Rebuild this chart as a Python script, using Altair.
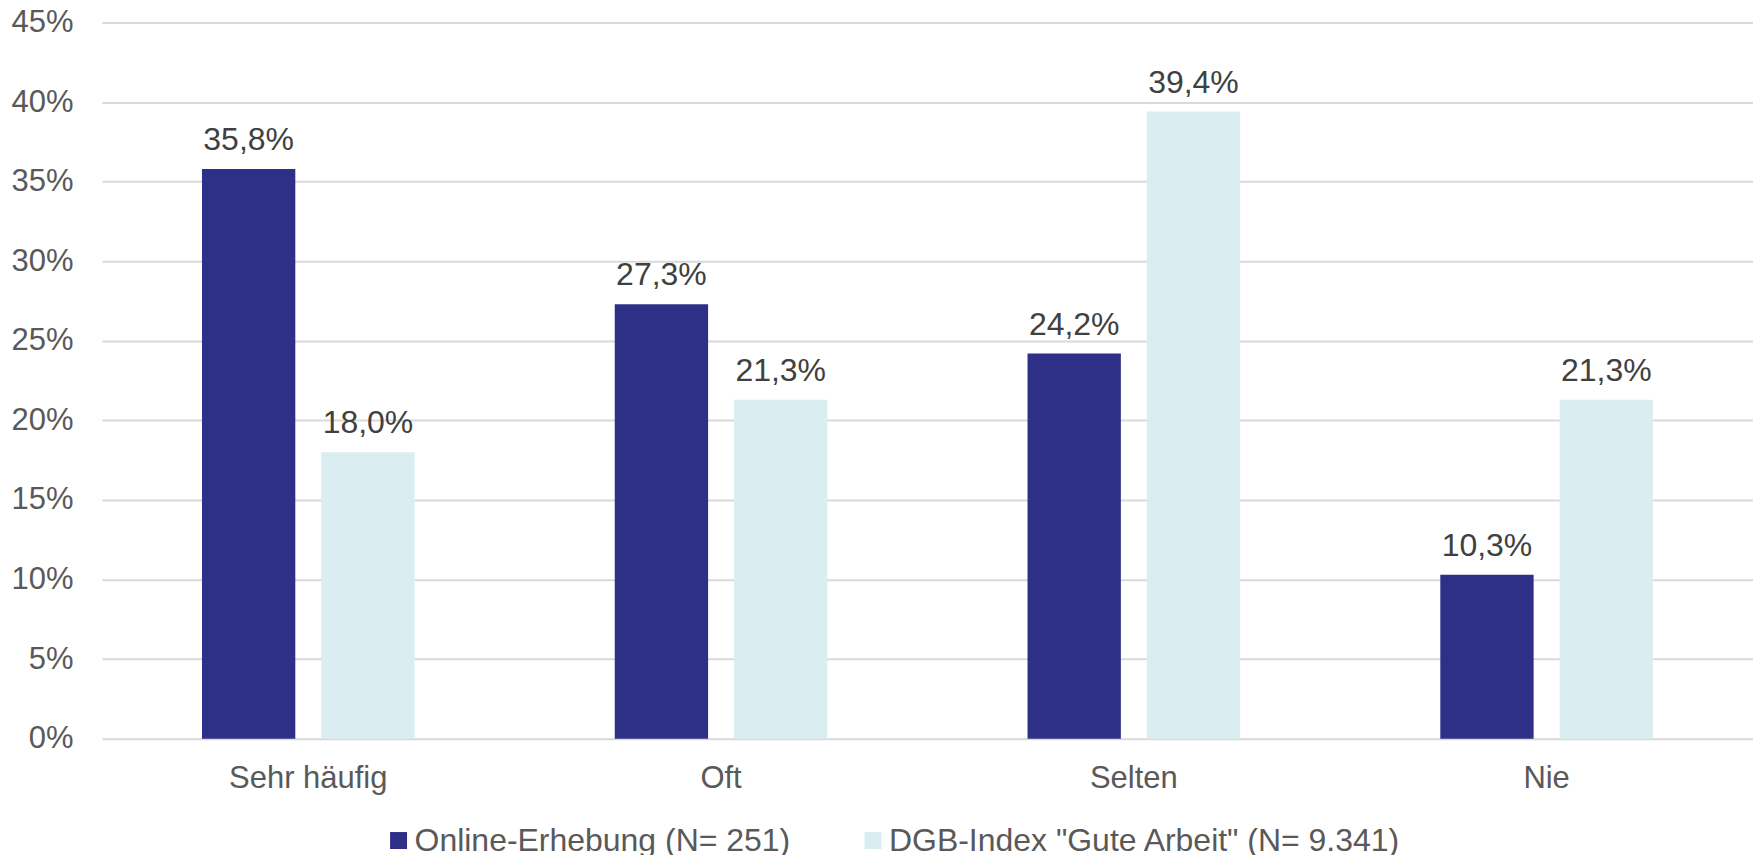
import altair as alt
import pandas as pd

categories = ["Sehr häufig", "Oft", "Selten", "Nie"]
series_names = ["Online-Erhebung (N= 251)", 'DGB-Index "Gute Arbeit" (N= 9.341)']
online_values = [35.8, 27.3, 24.2, 10.3]
dgb_values = [18.0, 21.3, 39.4, 21.3]
y_ticks = [0, 5, 10, 15, 20, 25, 30, 35, 40, 45]
colors = ["#2E2F87", "#DAEDF0"]

rows = []
for i, c in enumerate(categories):
    rows.append({"cat": c, "series": series_names[0], "value": online_values[i]})
    rows.append({"cat": c, "series": series_names[1], "value": dgb_values[i]})
df = pd.DataFrame(rows)

FONT = "Liberation Sans, Arial, sans-serif"
FS = 31
FS2 = 32

x_enc = alt.X("cat:N", sort=categories, title=None,
              scale=alt.Scale(paddingInner=0, paddingOuter=0),
              axis=alt.Axis(labelFontSize=FS, labelColor="#595959", labelFont=FONT,
                            ticks=False, domain=False, labelPadding=25, labelAngle=0,
                            grid=False))
xoff = alt.XOffset("series:N", sort=series_names,
                   scale=alt.Scale(paddingInner=0.2176, paddingOuter=0.839))
y_enc = alt.Y("value:Q", title=None,
              scale=alt.Scale(domain=[0, 45], nice=False),
              axis=alt.Axis(values=y_ticks, labelExpr="datum.value + '%'",
                            labelFontSize=FS, labelColor="#595959", labelFont=FONT,
                            ticks=False, domain=False, labelPadding=29,
                            grid=True, gridColor="#D9D9D9", gridWidth=2))

base = alt.Chart(df)

bars = base.mark_bar().encode(
    x=x_enc,
    xOffset=xoff,
    y=y_enc,
    color=alt.Color("series:N", sort=series_names,
                    scale=alt.Scale(domain=series_names, range=colors),
                    legend=alt.Legend(title=None, orient="none", legendX=281, legendY=803,
                                      direction="horizontal", symbolType="square",
                                      symbolSize=289, symbolStrokeWidth=0,
                                      symbolOpacity=1, labelFontSize=FS2,
                                      labelColor="#595959", labelFont=FONT,
                                      labelLimit=0,
                                      labelOffset=0, columnPadding=66, padding=0)),
)

labels = base.transform_calculate(
    lab="replace(format(datum.value, '.1f'), '.', ',') + '%'"
).mark_text(fontSize=FS2, font=FONT, color="#404040", baseline="alphabetic",
            align="center", dy=-19).encode(
    x=alt.X("cat:N", sort=categories),
    xOffset=alt.XOffset("series:N", sort=series_names),
    y=alt.Y("value:Q"),
    text="lab:N",
)

chart = alt.layer(bars, labels).properties(
    width=1653, height=717,
    padding={"left": 94, "top": 14, "right": 0, "bottom": 125},
    autosize=alt.AutoSizeParams(type="none"),
    background="white",
).configure_view(stroke=None)

chart.save("out.html", embed_options={"renderer": "svg", "actions": False})
